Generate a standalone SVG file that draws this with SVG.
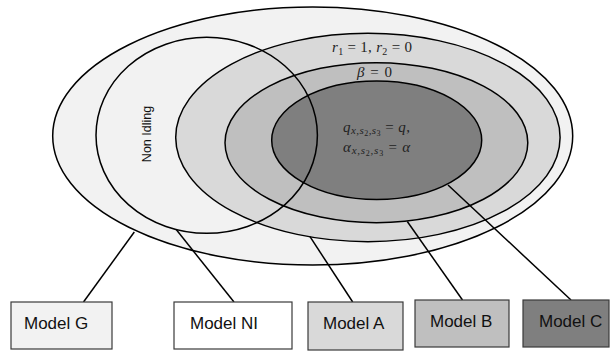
<svg xmlns="http://www.w3.org/2000/svg" width="610" height="354" viewBox="0 0 610 354">
  <style>
    .set { stroke: #000; stroke-width: 1.5; }
    .box { stroke: #3a3a3a; stroke-width: 1.2; }
    .lbl { font-family: "Liberation Sans", Arial, sans-serif; font-size: 17px; fill: #111; }
    .math { font-family: "Liberation Serif", "Times New Roman", serif; font-size: 15px; fill: #222; }
    .conn line { stroke: #000; stroke-width: 1.5; }
  </style>
  <rect width="610" height="354" fill="#fff"/>
  <g id="set-g">
    <ellipse class="set" cx="312.7" cy="136" rx="260" ry="129" fill="#f2f2f2"/>
  </g>
  <g id="set-a">
    <ellipse class="set" cx="367.9" cy="137.5" rx="192.2" ry="104.2" fill="#d9d9d9"/>
    <text class="math" x="332" y="52" textLength="80" lengthAdjust="spacing"><tspan font-style="italic">r</tspan><tspan font-size="10" dy="3">1</tspan><tspan dy="-3"> = 1, </tspan><tspan font-style="italic">r</tspan><tspan font-size="10" dy="3">2</tspan><tspan dy="-3"> = 0</tspan></text>
  </g>
  <g id="set-b">
    <ellipse class="set" cx="376.4" cy="142.7" rx="151.4" ry="80" fill="#bfbfbf"/>
    <text class="math" x="357" y="77" textLength="35" lengthAdjust="spacing"><tspan font-style="italic">β</tspan> = 0</text>
  </g>
  <g id="set-c">
    <ellipse class="set" cx="376.7" cy="140.2" rx="105" ry="59.2" fill="#7f7f7f"/>
    <text class="math" x="343" y="132" textLength="67" lengthAdjust="spacing"><tspan font-style="italic">q</tspan><tspan font-style="italic" font-size="11" dy="2">x,s</tspan><tspan font-size="8" dy="2">2</tspan><tspan font-style="italic" font-size="11" dy="-2">,s</tspan><tspan font-size="8" dy="2">3</tspan><tspan dy="-4"> = </tspan><tspan font-style="italic">q</tspan>,</text>
    <text class="math" x="343" y="152" textLength="67" lengthAdjust="spacing"><tspan font-style="italic">α</tspan><tspan font-style="italic" font-size="11" dy="2">x,s</tspan><tspan font-size="8" dy="2">2</tspan><tspan font-style="italic" font-size="11" dy="-2">,s</tspan><tspan font-size="8" dy="2">3</tspan><tspan dy="-4"> = </tspan><tspan font-style="italic">α</tspan></text>
  </g>
  <g id="set-ni">
    <ellipse class="set" cx="206.7" cy="135.3" rx="110.7" ry="98" fill="none"/>
    <text font-family="Liberation Sans, Arial, sans-serif" font-size="12.5" fill="#111" text-anchor="middle" transform="translate(151,134) rotate(-90)">Non Idling</text>
  </g>
  <g class="conn" id="connectors">
    <line x1="134.3" y1="232" x2="83.5" y2="302"/>
    <line x1="176" y1="229.3" x2="234" y2="302"/>
    <line x1="310" y1="236.7" x2="352.7" y2="302"/>
    <line x1="407.3" y1="221.5" x2="462.5" y2="300"/>
    <line x1="448" y1="185" x2="571" y2="300"/>
  </g>
  <g id="model-g">
    <rect class="box" x="11" y="302" width="101" height="47" fill="#f2f2f2"/>
    <text class="lbl" x="24" y="328.5">Model G</text>
  </g>
  <g id="model-ni">
    <rect class="box" x="174" y="302" width="118" height="47" fill="#ffffff"/>
    <text class="lbl" x="190" y="328.5">Model NI</text>
  </g>
  <g id="model-a">
    <rect class="box" x="308" y="302" width="95" height="48" fill="#d9d9d9"/>
    <text class="lbl" x="323" y="328.5">Model A</text>
  </g>
  <g id="model-b">
    <rect class="box" x="415" y="300" width="94" height="47" fill="#bfbfbf"/>
    <text class="lbl" x="430" y="327">Model B</text>
  </g>
  <g id="model-c">
    <rect class="box" x="523" y="300" width="86" height="47" fill="#7f7f7f"/>
    <text class="lbl" x="539" y="327">Model C</text>
  </g>
</svg>
